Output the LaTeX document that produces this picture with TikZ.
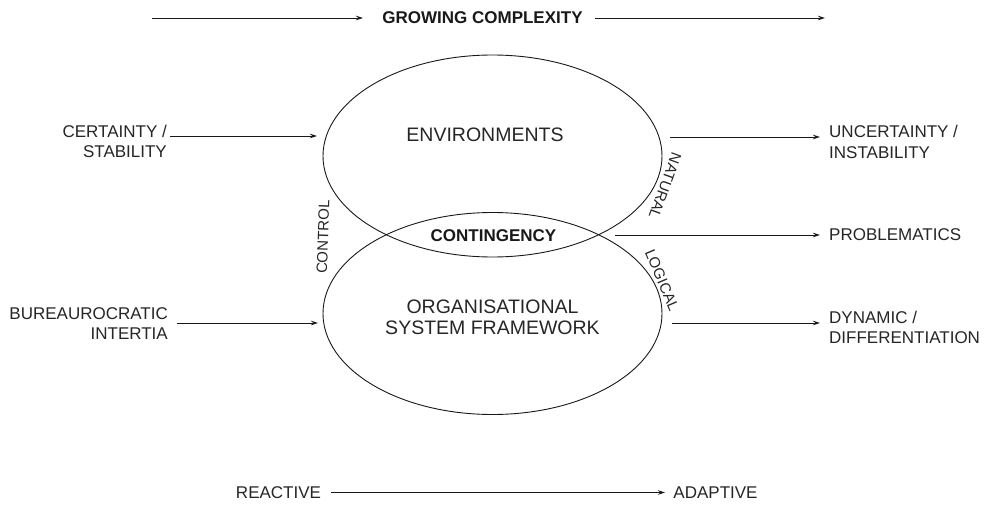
\documentclass[tikz,border=0pt]{standalone}
\usepackage{fontspec}
\setmainfont{Liberation Sans}
\usetikzlibrary{arrows.meta,shapes.geometric}
\begin{document}
\begin{tikzpicture}[x=1pt,y=-1pt,
  lbl/.style={inner sep=0pt, text=black!85, font=\fontsize{17}{20.5}\selectfont},
  bold/.style={inner sep=0pt, text=black!90, font=\bfseries\fontsize{17}{20.5}\selectfont},
  inlbl/.style={inner sep=0pt, text=black!85, align=center, font=\fontsize{19.5}{21.5}\selectfont},
  rlbl/.style={inner sep=0pt, text=black!85, font=\fontsize{15}{18}\selectfont},
  arr/.style={draw=black!90, line width=0.9pt, -{Stealth[length=7pt,width=4.5pt]}},
  oval/.style={draw=black!90, line width=0.9pt, ellipse, minimum width=339pt, minimum height=202pt, inner sep=0pt}]
\useasboundingbox (0,0) rectangle (986,506);
\fill[white] (0,0) rectangle (986,506);
% ovals
\node[oval] (env) at (492.5,156) {};
\node[oval] (org) at (492.5,313.5) {};
% top
\node[bold] (grow) at (482.5,18) {GROWING COMPLEXITY};
\coordinate (g1) at (152,18); \coordinate (g2) at (363,18);
\coordinate (g3) at (595,18); \coordinate (g4) at (825,18);
\draw[arr] (g1) -- (g2);
\draw[arr] (g3) -- (g4);
% inner labels
\node[inlbl] (envt) at (485,135) {ENVIRONMENTS};
\node[inlbl] (orgt) at (492.5,317.5) {ORGANISATIONAL\\SYSTEM FRAMEWORK};
\node[bold] (cont) at (493.5,236) {CONTINGENCY};
\node[rlbl, rotate=88] (ctrl) at (323,237) {CONTROL};
\node[rlbl, rotate=-110] (nat) at (665,186) {NATURAL};
\node[rlbl, rotate=-67] (logi) at (662,280) {LOGICAL};
% left
\node[lbl, align=right, anchor=east] (cert) at (167,141.5) {CERTAINTY /\\STABILITY};
\node[lbl, align=right, anchor=east] (bur) at (168,323.5) {BUREAUROCRATIC\\INTERTIA};
\coordinate (c1) at (170,136); \coordinate (c2) at (317,136);
\coordinate (b1) at (177,323); \coordinate (b2) at (318,323);
\draw[arr] (c1) -- (c2);
\draw[arr] (b1) -- (b2);
% right
\node[lbl, align=left, anchor=west] (unc) at (829,142) {UNCERTAINTY /\\INSTABILITY};
\node[lbl, anchor=west] (prob) at (829,235) {PROBLEMATICS};
\node[lbl, align=left, anchor=west] (dyn) at (829,327.5) {DYNAMIC /\\DIFFERENTIATION};
\coordinate (u1) at (670,137); \coordinate (u2) at (820,137);
\coordinate (p1) at (615,235); \coordinate (p2) at (820,235);
\coordinate (d1) at (672,323); \coordinate (d2) at (820,323);
\draw[arr] (u1) -- (u2);
\draw[arr] (p1) -- (p2);
\draw[arr] (d1) -- (d2);
% bottom
\node[lbl] (react) at (278.5,493) {REACTIVE};
\node[lbl] (adapt) at (715.5,493) {ADAPTIVE};
\coordinate (r1) at (331,492.5); \coordinate (r2) at (665,492.5);
\draw[arr] (r1) -- (r2);
\end{tikzpicture}
\end{document}
